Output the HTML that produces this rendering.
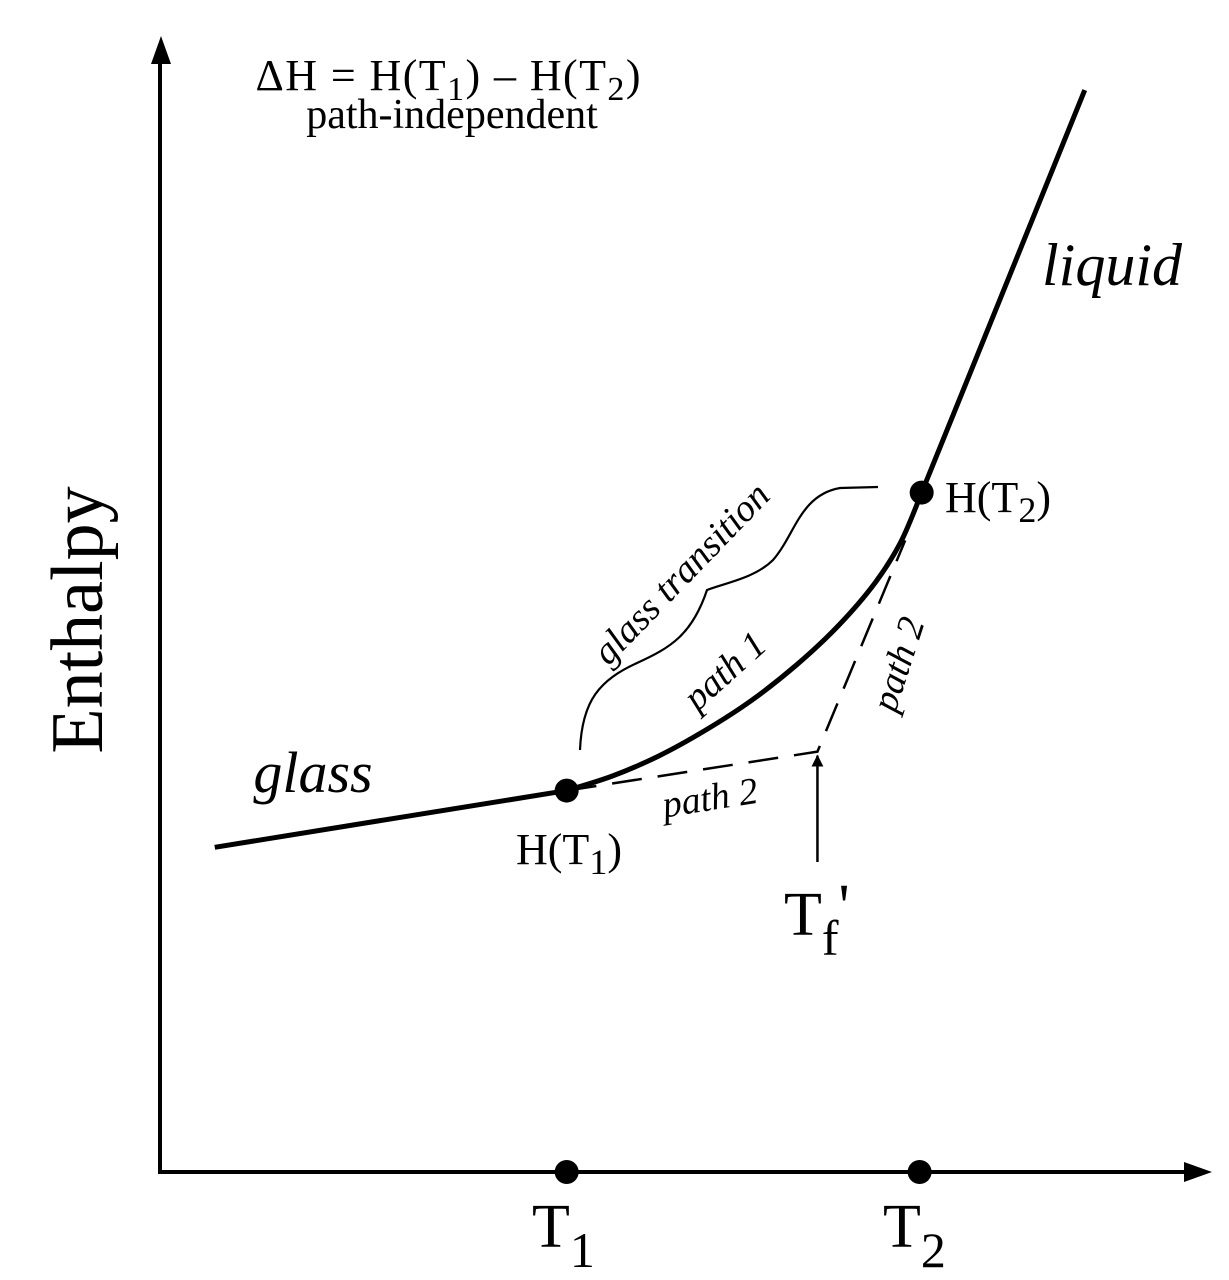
<!DOCTYPE html>
<html><head><meta charset="utf-8"><style>
html,body{margin:0;padding:0;background:#fff;}
svg{display:block;font-family:"Liberation Serif",serif;}
</style></head><body>
<svg id="chart" width="1229" height="1280" viewBox="0 0 1229 1280">
<defs>
<marker id="ah" markerWidth="12" markerHeight="12" refX="11" refY="6" orient="auto" markerUnits="userSpaceOnUse">
<path d="M0,0 L12,6 L0,12 z" fill="#000"/></marker>
</defs>
<g id="axes">
<line x1="160" y1="1172" x2="160" y2="50" stroke="#000" stroke-width="4"/>
<polygon points="161,36 151,64 171,64" fill="#000"/>
<line x1="158" y1="1172" x2="1190" y2="1172" stroke="#000" stroke-width="4"/>
<polygon points="1212,1172 1184,1162 1184,1182" fill="#000"/>
</g>
<g id="marks"></g>
<path d="M580,750 C582,700 600,680 637,663 C670,648 692,635 707,590 C725,583 755,578 773,560 C795,535 800,495 840,488 L878,487" fill="none" stroke="#000" stroke-width="2.2"/>
<text x="448" y="90" font-size="44" text-anchor="middle" textLength="385">ΔH = H(T<tspan font-size="34" dy="10">1</tspan><tspan dy="-10">) – H(T</tspan><tspan font-size="34" dy="10">2</tspan><tspan dy="-10">)</tspan></text>
<text x="452" y="128" font-size="42" text-anchor="middle">path-independent</text>
<text transform="translate(102,620) rotate(-90)" font-size="74" text-anchor="middle">Enthalpy</text>
<text x="1112" y="285" font-size="60" font-style="italic" text-anchor="middle">liquid</text>
<text x="313" y="792" font-size="58" font-style="italic" text-anchor="middle">glass</text>
<text x="945" y="512" font-size="44">H(T<tspan font-size="36" dy="10">2</tspan><tspan dy="-10">)</tspan></text>
<text x="516" y="864" font-size="44">H(T<tspan font-size="36" dy="10">1</tspan><tspan dy="-10">)</tspan></text>
<text x="532" y="1247" font-size="62">T<tspan font-size="50" dy="20">1</tspan></text>
<text x="883" y="1247" font-size="62">T<tspan font-size="50" dy="20">2</tspan></text>
<text x="784" y="935" font-size="62">T<tspan font-size="50" dy="20">f</tspan><tspan dy="-28">'</tspan></text>
<text transform="translate(690,582) rotate(-46)" font-size="38" font-style="italic" text-anchor="middle">glass transition</text>
<text transform="translate(733,680) rotate(-42)" font-size="38" font-style="italic" text-anchor="middle">path 1</text>
<text transform="translate(712,810) rotate(-9)" font-size="38" font-style="italic" text-anchor="middle">path 2</text>
<text transform="translate(910,668) rotate(-72)" font-size="38" font-style="italic" text-anchor="middle">path 2</text>
</svg>
<script>
const glassX = [5.5, 39.6];
const glassY = [29.2, 34.3];
const path1X = [39.6, 44.0, 48.5, 53.0, 57.5, 62.0, 66.0, 69.5, 72.0, 74.0];
const path1Y = [34.3, 35.6, 37.4, 39.7, 42.4, 45.7, 49.2, 53.0, 56.7, 61.1];
const liquidX = [74.0, 81.6, 89.8];
const liquidY = [61.1, 78.5, 97.3];
const path2X = [39.6, 63.9, 72.4];
const path2Y = [34.3, 37.8, 56.8];
const tempX = [39.6, 73.8];
const stateX = [39.6, 74.0];
const stateY = [34.3, 61.1];
const tfX = 63.9;

function xs(v){return 158 + v*10.32;}
function ys(v){return 1172 - v*11.12;}
const NS = "http://www.w3.org/2000/svg";
const g = document.getElementById('marks');
function mk(tag, attrs){const e=document.createElementNS(NS,tag);for(const k in attrs)e.setAttribute(k,attrs[k]);g.appendChild(e);return e;}
function smooth(X,Y){
  const p=X.map((x,i)=>[xs(x),ys(Y[i])]);
  let d="M"+p[0][0]+","+p[0][1];
  for(let i=0;i<p.length-1;i++){
    const p0=p[i-1]||p[i],p1=p[i],p2=p[i+1],p3=p[i+2]||p2;
    const c1=[p1[0]+(p2[0]-p0[0])/6,p1[1]+(p2[1]-p0[1])/6];
    const c2=[p2[0]-(p3[0]-p1[0])/6,p2[1]-(p3[1]-p1[1])/6];
    d+=" C"+c1+" "+c2+" "+p2;
  }
  return d;
}
function poly(X,Y){return X.map((x,i)=>(i?"L":"M")+xs(x)+","+ys(Y[i])).join(" ");}
let e;
e=mk('path',{d:poly(path2X,path2Y),fill:'none',stroke:'#000','stroke-width':2.5,'stroke-dasharray':'30,16'});


e=mk('path',{d:poly(glassX,glassY),fill:'none',stroke:'#000','stroke-width':5});


e=mk('path',{d:smooth(path1X,path1Y),fill:'none',stroke:'#000','stroke-width':5});


e=mk('path',{d:smooth(liquidX,liquidY),fill:'none',stroke:'#000','stroke-width':5});


e=mk('line',{x1:xs(tfX),y1:862,x2:xs(tfX),y2:ys(path2Y[1])+4,stroke:'#000','stroke-width':2.5,'marker-end':'url(#ah)'});


tempX.forEach((v,i)=>{
  const c=mk('circle',{cx:xs(v),cy:1172,r:12,fill:'#000'});
  
  
});
stateX.forEach((v,i)=>{
  const c=mk('circle',{cx:xs(v),cy:ys(stateY[i]),r:12,fill:'#000'});
  
  
});
</script>
</body></html>
